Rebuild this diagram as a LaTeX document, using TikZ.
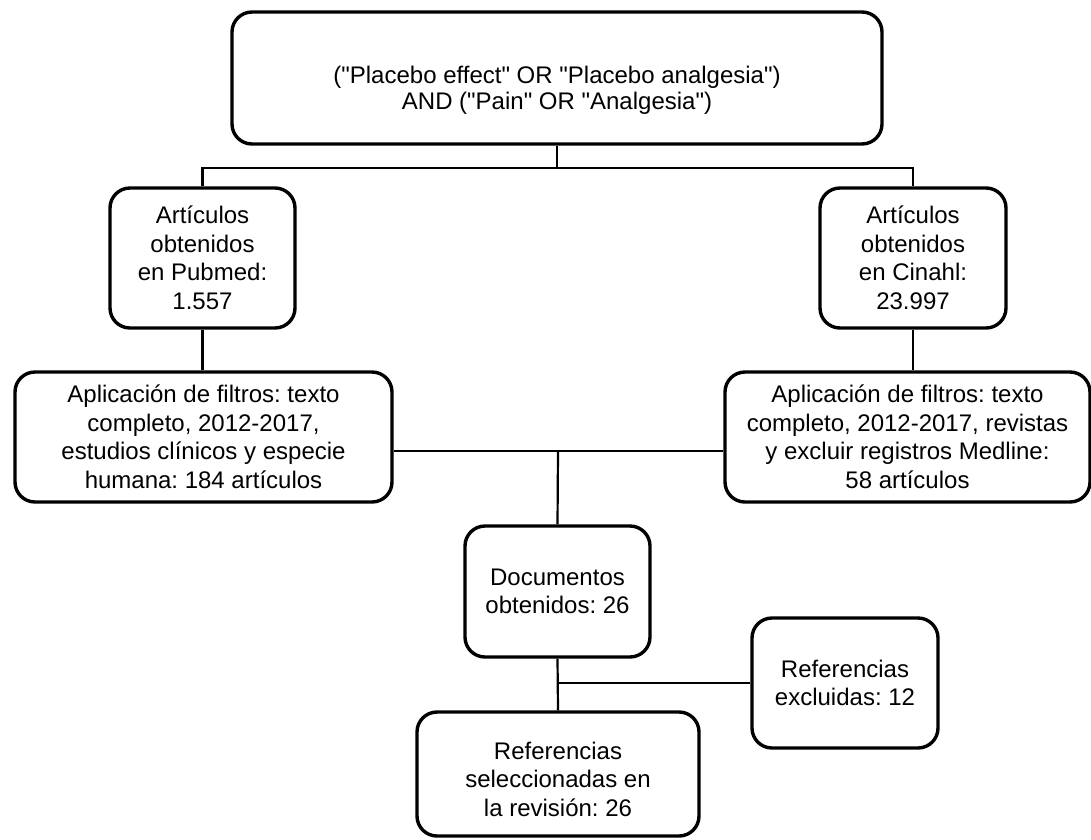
\documentclass[tikz,border=0pt]{standalone}
\usepackage{fontspec}
\setmainfont{Liberation Sans}[Ligatures=TeXOff]
\begin{document}
\begin{tikzpicture}[x=1pt,y=-1pt,
  box/.style={draw=black, line width=3.4pt, rounded corners=20pt, inner sep=0pt,
    align=center, font=\fontsize{24}{28.5}\selectfont\frenchspacing},
  txt/.style={inner sep=0pt, align=center, font=\fontsize{24}{28.5}\selectfont\frenchspacing},
  link/.style={draw=black, line width=2.2pt}]
\useasboundingbox (0,0) rectangle (1091,839);
\node[box, minimum width=650, minimum height=132] (top) at (557,78) {};
\node[txt, font=\fontsize{24}{26}\selectfont\frenchspacing] (toptext) at (557,90)
  {("Placebo effect" OR "Placebo analgesia")\\AND ("Pain" OR "Analgesia")};
\node[box, minimum width=185, minimum height=140] (pub) at (202.5,258)
  {Artículos\\obtenidos\\en Pubmed:\\1.557};
\node[box, minimum width=186, minimum height=140] (cin) at (913,258)
  {Artículos\\obtenidos\\en Cinahl:\\23.997};
\node[box, minimum width=377, minimum height=130] (fl) at (203.5,437)
  {Aplicación de filtros: texto\\completo, 2012-2017,\\estudios clínicos y especie\\humana: 184 artículos};
\node[box, minimum width=365, minimum height=130] (fr) at (907.5,437)
  {Aplicación de filtros: texto\\completo, 2012-2017, revistas\\y excluir registros Medline:\\58 artículos};
\node[box, minimum width=185, minimum height=131] (doc) at (557.5,591.5)
  {Documentos\\obtenidos: 26};
\node[box, minimum width=186, minimum height=130] (exc) at (845,683)
  {Referencias\\excluidas: 12};
\node[box, minimum width=282, minimum height=124] (fin) at (558,774) {};
\node[txt] (fintext) at (558,779)
  {Referencias\\seleccionadas en\\la revisión: 26};
\coordinate (j1) at (557,168);
\coordinate (j2) at (558,451);
\coordinate (j3) at (558,683);
\draw[link] (top.south) -- (j1);
\draw[link] (pub.north) |- (j1) -| (cin.north);
\draw[link] (pub.south) -- (pub.south |- fl.north);
\draw[link] (cin.south) -- (cin.south |- fr.north);
\draw[link] (fl.east |- j2) -- (fr.west |- j2);
\draw[link] (j2) -- (doc.north);
\draw[link] (doc.south) -- (fin.north);
\draw[link] (j3) -- (exc.west);
\end{tikzpicture}
\end{document}
